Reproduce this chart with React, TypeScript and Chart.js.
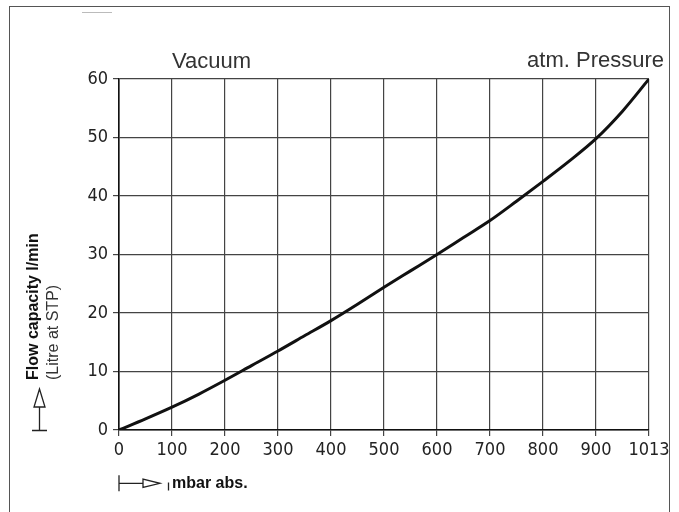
import React, { useEffect, useRef } from "react";
import { Chart, registerables } from "chart.js";

Chart.register(...registerables);

// Data
const pressures = [0, 50, 100, 150, 200, 250, 300, 350, 400, 450, 500, 550, 600, 650, 700, 750, 800, 850, 900, 950, 1000];
const flows = [0, 1.9, 3.9, 6.1, 8.5, 11.0, 13.5, 16.1, 18.7, 21.5, 24.4, 27.2, 30.0, 32.9, 35.8, 39.1, 42.5, 46.0, 49.8, 54.5, 60.0];
const xTickLabels: Record<number, string> = { 1000: "1013" };
const topLeftLabel = "Vacuum";
const topRightLabel = "atm. Pressure";
const yTitleBold = "Flow capacity l/min";
const yTitleNormal = "(Litre at STP)";
const xTitle = "mbar abs.";

const TICK_FONT = { family: "'DejaVu Sans Condensed', 'DejaVu Sans', sans-serif", size: 18 };

const annotations = {
  id: "annotations",
  afterDraw(chart: any) {
    const { ctx, chartArea: ca } = chart;
    ctx.save();
    // top labels
    ctx.fillStyle = "#333";
    ctx.font = "22px 'Liberation Sans', Arial, sans-serif";
    ctx.textBaseline = "alphabetic";
    ctx.textAlign = "left";
    ctx.fillText(topLeftLabel, ca.left + 53, ca.top - 11);
    ctx.textAlign = "right";
    ctx.fillText(topRightLabel, ca.right + 15, ca.top - 12);

    // y-axis title (rotated)
    ctx.save();
    ctx.translate(37.5, ca.bottom - 50);
    ctx.rotate(-Math.PI / 2);
    ctx.textAlign = "left";
    ctx.fillStyle = "#111";
    ctx.font = "bold 16px 'Liberation Sans', Arial, sans-serif";
    ctx.fillText(yTitleBold, 0, 0);
    ctx.fillStyle = "#333";
    ctx.font = "16px 'Liberation Sans', Arial, sans-serif";
    ctx.fillText(yTitleNormal, 0, 20.5);
    ctx.restore();

    ctx.strokeStyle = "#222";
    ctx.lineWidth = 1.3;
    // y arrow (pointing up)
    const ax = 39.5;
    const ab = ca.bottom + 0.5;
    ctx.beginPath();
    ctx.moveTo(32, ab);
    ctx.lineTo(47, ab);
    ctx.moveTo(ax, ab);
    ctx.lineTo(ax, ab - 23.5);
    ctx.stroke();
    ctx.beginPath();
    ctx.moveTo(ax, ab - 41.5);
    ctx.lineTo(ax - 5.5, ab - 23.5);
    ctx.lineTo(ax + 5.5, ab - 23.5);
    ctx.closePath();
    ctx.fillStyle = "#fff";
    ctx.fill();
    ctx.stroke();

    // x arrow (pointing right)
    const bx = ca.left;
    const by = ca.bottom + 53.3;
    ctx.beginPath();
    ctx.moveTo(bx, by - 8);
    ctx.lineTo(bx, by + 8);
    ctx.moveTo(bx, by);
    ctx.lineTo(bx + 24, by);
    ctx.stroke();
    ctx.beginPath();
    ctx.moveTo(bx + 24, by - 4.3);
    ctx.lineTo(bx + 24, by + 4.2);
    ctx.lineTo(bx + 41, by);
    ctx.closePath();
    ctx.fill();
    ctx.stroke();
    ctx.beginPath();
    ctx.moveTo(bx + 49.5, by - 0.8);
    ctx.lineTo(bx + 49.5, by + 7.2);
    ctx.stroke();
    ctx.fillStyle = "#111";
    ctx.textAlign = "left";
    ctx.font = "bold 16px 'Liberation Sans', Arial, sans-serif";
    ctx.fillText(xTitle, bx + 53, by + 4.2);
    ctx.restore();
  },
};

export default function App() {
  const ref = useRef<HTMLCanvasElement | null>(null);

  useEffect(() => {
    if (!ref.current) return;
    const chart = new Chart(ref.current, {
      type: "line",
      data: {
        datasets: [
          {
            data: pressures.map((p, i) => ({ x: p, y: flows[i] })),
            borderColor: "#111",
            borderWidth: 3,
            pointRadius: 0,
            fill: false,
            cubicInterpolationMode: "monotone",
            tension: 0.4,
          },
        ],
      },
      options: {
        responsive: false,
        animation: false,
        events: [],
        layout: { padding: { left: 0, right: 30, top: 79, bottom: 0 } },
        plugins: { legend: { display: false }, tooltip: { enabled: false }, title: { display: false } },
        scales: {
          x: {
            type: "linear",
            min: 0,
            max: 1000,
            ticks: {
              stepSize: 100,
              autoSkip: false,
              maxRotation: 0,
              padding: 4,
              color: "#222",
              font: TICK_FONT,
              callback: (v: any) => xTickLabels[v] ?? String(v),
            },
            grid: { color: "#444", lineWidth: 1.2, tickLength: 6, drawTicks: true },
            border: { display: true, color: "#111", width: 1.6 },
            afterFit: (scale: any) => {
              scale.height = 82;
            },
          },
          y: {
            type: "linear",
            min: 0,
            max: 60,
            ticks: { stepSize: 10, padding: 5, color: "#222", font: TICK_FONT },
            grid: { color: "#444", lineWidth: 1.2, tickLength: 6, drawTicks: true },
            border: { display: true, color: "#111", width: 1.6 },
            afterFit: (scale: any) => {
              scale.width = 119;
            },
          },
        },
      },
      plugins: [annotations],
    } as any);
    return () => chart.destroy();
  }, []);

  return (
    <div style={{ position: "absolute", left: 0, top: 0, width: 679, height: 512, overflow: "hidden", background: "#fff" }}>
      <div
        style={{
          position: "absolute",
          left: 8.5,
          top: 6.3,
          width: 661,
          height: 540,
          border: "1.5px solid #555",
          boxSizing: "border-box",
        }}
      />
      <div style={{ position: "absolute", left: 82, top: 11.5, width: 30, height: 1.5, background: "#bbb" }} />
      <canvas ref={ref} width={679} height={512} style={{ position: "absolute", left: 0, top: 0, display: "block" }} />
    </div>
  );
}
